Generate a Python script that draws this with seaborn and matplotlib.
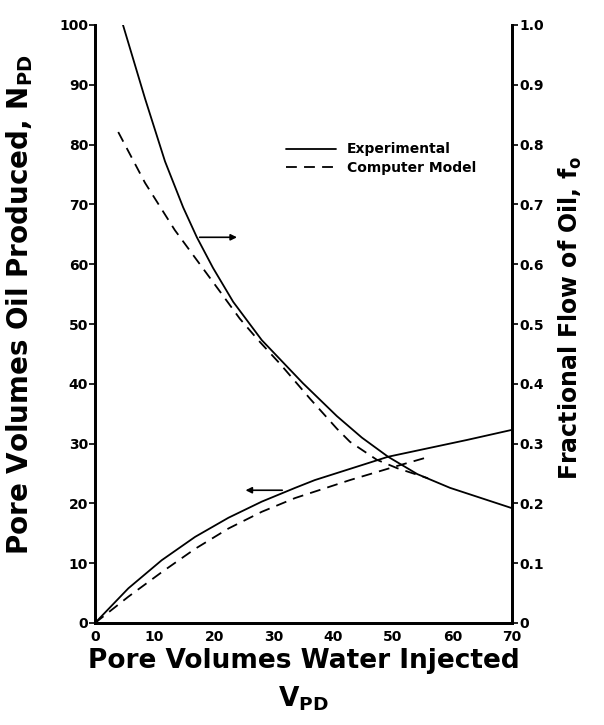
import matplotlib
matplotlib.use("Agg")
import matplotlib.pyplot as plt
import seaborn as sns

# Fractional flow of oil (right axis)
vpd_fo_exp = [4.7, 8.4, 11.75, 14.8, 17.1, 19.8, 23.2, 28.0, 34.9, 40.6, 44.8, 49.2, 54.1, 59.6, 70.0]
fo_exp = [1.0, 0.877, 0.772, 0.695, 0.645, 0.594, 0.537, 0.473, 0.401, 0.346, 0.310, 0.278, 0.249, 0.226, 0.192]
vpd_fo_mod = [3.9, 8.4, 13.4, 17.6, 21.0, 24.3, 27.4, 31.1, 36.1, 40.6, 42.8, 47.3, 50.7, 55.9]
fo_mod = [0.821, 0.736, 0.657, 0.600, 0.554, 0.509, 0.473, 0.433, 0.375, 0.325, 0.303, 0.273, 0.259, 0.242]

# Oil produced (left axis)
vpd_np_exp = [0, 5.6, 11.2, 16.8, 22.4, 28.0, 33.6, 36.9, 49.2, 62.4, 70.0]
np_exp = [0, 5.8, 10.5, 14.4, 17.6, 20.3, 22.6, 23.9, 27.8, 30.6, 32.3]
vpd_np_mod = [0, 5.6, 11.2, 16.8, 22.4, 28.0, 33.6, 42.8, 51.2, 55.4]
np_mod = [0, 4.4, 8.5, 12.4, 15.8, 18.6, 20.9, 23.9, 26.4, 27.6]

x_ticks = [0, 10, 20, 30, 40, 50, 60, 70]
y_ticks = [0, 10, 20, 30, 40, 50, 60, 70, 80, 90, 100]
y2_ticks = [0, 0.1, 0.2, 0.3, 0.4, 0.5, 0.6, 0.7, 0.8, 0.9, 1.0]
y2_labels = ["0", "0.1", "0.2", "0.3", "0.4", "0.5", "0.6", "0.7", "0.8", "0.9", "1.0"]

sns.set_theme(style="ticks")
plt.rcParams['font.family'] = ['DejaVu Sans']
plt.rcParams['font.weight'] = 'bold'
plt.rcParams['text.color'] = 'black'
plt.rcParams['axes.labelcolor'] = 'black'

fig = plt.figure(figsize=(6.04, 7.25), dpi=100)
ax = fig.add_axes([95/604, 102/725, 417/604, 598/725])
ax2 = ax.twinx()

DASH = (0, (6, 4))
sns.lineplot(x=vpd_np_exp, y=np_exp, ax=ax, color="black", lw=1.3, label="Experimental")
sns.lineplot(x=vpd_np_mod, y=np_mod, ax=ax, color="black", lw=1.3, linestyle=DASH, label="Computer Model")
sns.lineplot(x=vpd_fo_exp, y=fo_exp, ax=ax2, color="black", lw=1.3, legend=False)
sns.lineplot(x=vpd_fo_mod, y=fo_mod, ax=ax2, color="black", lw=1.3, linestyle=DASH, legend=False)

ax.set_xlim(0, 70)
ax.set_ylim(0, 100)
ax2.set_ylim(0, 1.0)
ax.set_xticks(x_ticks)
ax.set_yticks(y_ticks)
ax2.set_yticks(y2_ticks)
ax2.set_yticklabels(y2_labels)

for a in (ax, ax2):
    a.spines['top'].set_visible(False)
    for s in ('left', 'right', 'bottom'):
        a.spines[s].set_linewidth(2.0)
        a.spines[s].set_color('black')
    a.tick_params(axis='both', which='both', direction='out', length=4, width=1.2,
                  colors='black', labelsize=10, pad=1)
ax.tick_params(axis='x', length=0, pad=5)
for lbl in ax.get_xticklabels() + ax.get_yticklabels() + ax2.get_yticklabels():
    lbl.set_fontweight('bold')

ax.set_xlabel("Pore Volumes Water Injected\n" + r"$\mathbf{V_{PD}}$", fontsize=19,
              fontweight='bold', labelpad=3, linespacing=1.45, color='black')
ax.set_ylabel(r"Pore Volumes Oil Produced, $\mathbf{N_{PD}}$", fontsize=20,
              fontweight='bold', color='black')
ax.yaxis.set_label_coords(-0.145, 0.532)
ax2.set_ylabel(r"Fractional Flow of Oil, $\mathbf{f_o}$", fontsize=17,
               fontweight='bold', color='black')
ax2.yaxis.set_label_coords(1.108, 0.51)

leg = ax.legend(loc='upper left', bbox_to_anchor=(0.435, 0.82), frameon=False,
                handlelength=3.6, fontsize=10, handletextpad=0.8, labelspacing=0.3,
                borderpad=0.2)
for t in leg.get_texts():
    t.set_fontweight('bold')
    t.set_color('black')

arrow = dict(arrowstyle='-|>', color='black', lw=1.2, mutation_scale=9)
ax.annotate("", xy=(24.3, 64.5), xytext=(17.1, 64.5), arrowprops=arrow)
ax.annotate("", xy=(24.8, 22.2), xytext=(31.9, 22.2), arrowprops=arrow)

fig.savefig("out.png", dpi=100)
